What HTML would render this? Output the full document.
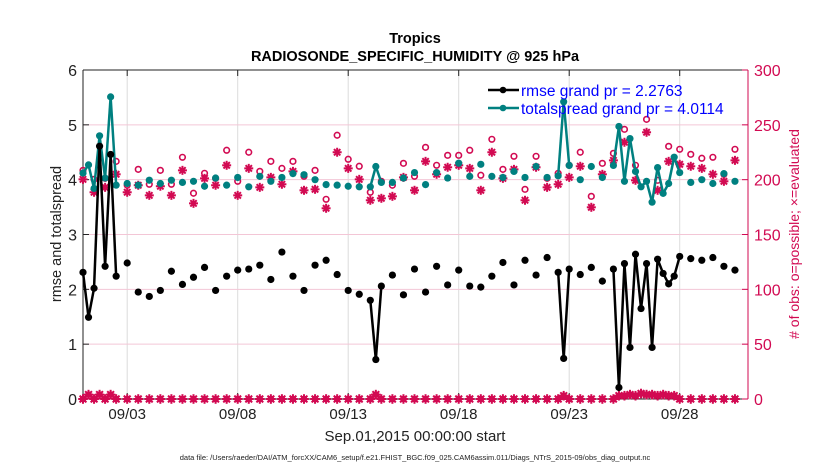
<!DOCTYPE html>
<html><head><meta charset="utf-8">
<style>
html,body{margin:0;padding:0;background:#fff;}
svg{display:block;font-family:"Liberation Sans",Arial,sans-serif;}
</style></head>
<body>
<svg id="chart" width="830" height="470" viewBox="0 0 830 470" xmlns="http://www.w3.org/2000/svg">
<g id="grid"></g>
<g id="axes"></g>
<g id="marks"></g>
<text x="415" y="43" text-anchor="middle" font-size="14.5" font-weight="bold">Tropics</text>
<text x="415" y="61" text-anchor="middle" font-size="14.5" font-weight="bold">RADIOSONDE_SPECIFIC_HUMIDITY @ 925 hPa</text>
<text x="415" y="441" text-anchor="middle" font-size="15" fill="#222">Sep.01,2015 00:00:00 start</text>
<text x="415" y="460" text-anchor="middle" font-size="7.5" fill="#222">data file: /Users/raeder/DAI/ATM_forcXX/CAM6_setup/f.e21.FHIST_BGC.f09_025.CAM6assim.011/Diags_NTrS_2015-09/obs_diag_output.nc</text>
<text transform="translate(61,234) rotate(-90)" text-anchor="middle" font-size="14.5" fill="#222">rmse and totalspread</text>
<text transform="translate(799,234) rotate(-90)" text-anchor="middle" font-size="14" fill="#d20a52"># of obs: o=possible; ×=evaluated</text>
<g>
<g>
<line x1="488" y1="90" x2="519" y2="90" stroke="#000" stroke-width="2.5"/>
<circle cx="503" cy="90" r="3.3" fill="#000"/>
<text x="521" y="96" font-size="15.5" fill="#0000ff">rmse grand pr = 2.2763</text>
</g>
<g>
<line x1="488" y1="108" x2="519" y2="108" stroke="#008080" stroke-width="2.5"/>
<circle cx="503" cy="108" r="3.3" fill="#008080"/>
<text x="521" y="114" font-size="15.5" fill="#0000ff">totalspread grand pr = 4.0114</text>
</g>
</g>
</svg>
<script>
const days = [0,0.25,0.5,0.75,1,1.25,1.5,
 2,2.5,3,3.5,4,4.5,5,5.5,6,6.5,7,7.5,8,8.5,9,9.5,10,10.5,11,11.5,12,12.5,13,
 13.25,
 13.5,14,14.5,15,15.5,16,16.5,17,17.5,18,18.5,19,19.5,20,20.5,21,21.5,
 21.75,
 22,22.5,23,23.5,24,
 24.25,24.5,24.75,25,25.25,25.5,25.75,26,26.25,26.5,26.75,
 27,27.5,28,28.5,29,29.5];
const rmse = [2.31,1.49,2.02,4.61,2.42,4.46,2.24,
 2.48,1.95,1.87,1.98,2.33,2.09,2.22,2.40,1.98,2.24,2.35,2.37,2.44,2.18,2.68,2.24,1.98,2.44,2.53,2.27,1.98,1.91,1.80,
 0.72,
 2.06,2.26,1.90,2.37,1.95,2.42,2.08,2.35,2.06,2.04,2.24,2.49,2.08,2.53,2.26,2.58,2.31,
 0.74,
 2.37,2.27,2.40,2.15,2.37,
 0.21,2.47,0.94,2.64,1.65,2.47,0.94,2.55,2.29,2.10,2.24,
 2.60,2.56,2.53,2.58,2.42,2.35];
const spread = [4.12,4.27,3.84,4.80,4.03,5.51,3.90,
 3.93,3.90,3.99,3.93,3.99,3.95,3.97,3.88,4.03,3.90,4.04,3.87,4.06,3.97,4.04,4.11,4.09,4.00,3.91,3.90,3.88,3.87,3.87,
 4.24,
 3.95,3.95,4.03,4.13,3.91,4.13,4.03,4.30,4.06,4.28,4.06,4.04,4.15,4.04,4.24,4.04,4.07,
 5.42,
 4.26,4.00,4.24,4.04,4.26,
 4.97,3.97,4.75,4.15,3.87,3.97,3.59,4.22,3.75,3.93,4.41,
 4.13,3.95,4.00,3.93,4.11,3.97];
const possible = [208.5,null,200.3,null,201.2,null,216.7,
 194.9,209.4,195.8,208.5,195.8,220.4,187.6,205.8,201.2,226.8,198.5,225,207.6,216.7,210.3,216.7,203.1,208.5,182.1,240.5,218.6,212.2,188.5,
 null,
 198.5,194.9,214.9,203.1,229.5,213.1,222.2,222.2,226.8,204,236.8,209.4,221.3,191.2,221.3,201.2,205.8,
 null,
 213.1,225,184.8,214.9,224,
 null,245.9,null,213.1,null,255,null,199.4,null,230.4,null,
 227.7,223.1,219.5,220.4,204.9,227.7];
const evaluated = [200.3,null,188.5,null,193,null,204.9,
 188.5,194.9,185.7,194,185.7,208.5,178.4,201.2,194.9,213.1,185.7,210.3,193,202.1,195.8,207.6,190.3,191.2,173.9,225,210.3,200.3,181.2,
 null,
 183,184.8,202.1,190.3,216.7,204.9,211.3,213.1,210.3,190.3,225,201.2,209.4,181.2,211.3,193,195.8,
 null,
 202.1,212.2,174.8,204.9,217.6,
 null,234.1,null,199.4,null,243.2,null,190.3,null,216.7,null,
 214,212.2,210.3,204.9,198.5,217.6];
const lowCount = [0,4,0,4,0,4,0,
 0,0,0,0,0,0,0,0,0,0,0,0,0,0,0,0,0,0,0,0,0,0,0,
 4,
 0,0,0,0,0,0,0,0,0,0,0,0,0,0,0,0,0,
 3,
 0,0,0,0,0,
 3,3,4,3,5,4,4,3,4,3,3,
 0,0,0,0,0,0];
const xTickDays = [2,7,12,17,22,27];
const xTickLabels = ["09/03","09/08","09/13","09/18","09/23","09/28"];
const yLeftTicks = [0,1,2,3,4,5,6];
const yRightTicks = [0,50,100,150,200,250,300];

const NS="http://www.w3.org/2000/svg";
const X0=83,X1=748,Y0=399,Y1=70, DMAX=30.09;
const PINK="#d20a52", TEAL="#008080";
const xs=d=>X0+(d/DMAX)*(X1-X0);
const yl=v=>Y0-(v/6)*(Y0-Y1);
const yr=v=>Y0-(v/300)*(Y0-Y1);
function mk(tag,attrs,parent){const e=document.createElementNS(NS,tag);for(const k in attrs)e.setAttribute(k,attrs[k]);parent.appendChild(e);return e;}
const grid=document.getElementById('grid'),axes=document.getElementById('axes'),marks=document.getElementById('marks');

// grid
xTickDays.forEach((d,i)=>{
 const l=mk('line',{x1:xs(d),x2:xs(d),y1:Y1,y2:Y0,stroke:'#dcdcdc','stroke-width':1},grid);
 
 
});
yRightTicks.forEach(v=>{
 if(v===0||v===300)return;
 const l=mk('line',{x1:X0,x2:X1,y1:yr(v),y2:yr(v),stroke:'#f3c6d6','stroke-width':1},grid);
 
 
});
// axes
mk('line',{x1:X0,x2:X1,y1:Y1,y2:Y1,stroke:'#222','stroke-width':1},axes);
mk('line',{x1:X0,x2:X1,y1:Y0,y2:Y0,stroke:'#222','stroke-width':1},axes);
mk('line',{x1:X0,x2:X0,y1:Y1,y2:Y0,stroke:'#222','stroke-width':1},axes);
mk('line',{x1:X1,x2:X1,y1:Y1,y2:Y0,stroke:PINK,'stroke-width':1},axes);
xTickDays.forEach((d,i)=>{
 mk('line',{x1:xs(d),x2:xs(d),y1:Y0,y2:Y0-6,stroke:'#222'},axes);
 mk('line',{x1:xs(d),x2:xs(d),y1:Y1,y2:Y1+6,stroke:'#222'},axes);
 const t=mk('text',{x:xs(d),y:Y0+20,'text-anchor':'middle','font-size':15,fill:'#222'},axes);
 t.textContent=xTickLabels[i];
 
 
});
yLeftTicks.forEach(v=>{
 mk('line',{x1:X0,x2:X0+6,y1:yl(v),y2:yl(v),stroke:'#222'},axes);
 const t=mk('text',{x:X0-6,y:yl(v)+6,'text-anchor':'end','font-size':16,fill:'#222'},axes);
 t.textContent=v;
 
 
});
yRightTicks.forEach(v=>{
 mk('line',{x1:X1,x2:X1-6,y1:yr(v),y2:yr(v),stroke:PINK},axes);
 const t=mk('text',{x:X1+6,y:yr(v)+6,'text-anchor':'start','font-size':16,fill:PINK},axes);
 t.textContent=v;
 
 
});

function star(g,cx,cy,r,color){
 for(let k=0;k<4;k++){const a=k*Math.PI/4;
  mk('line',{x1:cx-r*Math.cos(a),y1:cy-r*Math.sin(a),x2:cx+r*Math.cos(a),y2:cy+r*Math.sin(a),stroke:color,'stroke-width':2},g);}
}
function lineSeries(vals,yf,color,name){
 const g=mk('g',{},marks);
 
 
 for(let i=1;i<days.length;i++){
  if(vals[i]==null||vals[i-1]==null)continue;
  if(days[i]-days[i-1]>0.3)continue;
  mk('line',{x1:xs(days[i-1]),y1:yf(vals[i-1]),x2:xs(days[i]),y2:yf(vals[i]),stroke:color,'stroke-width':2.5,'stroke-linejoin':'round'},g);
 }
 days.forEach((d,i)=>{
  if(vals[i]==null)return;
  const c=mk('circle',{cx:xs(d),cy:yf(vals[i]),r:3.6,fill:color},g);
  
  
 });
}
// pink obs counts
const gp=mk('g',{},marks);


days.forEach((d,i)=>{
 if(possible[i]==null)return;
 const c=mk('circle',{cx:xs(d),cy:yr(possible[i]),r:2.8,fill:'none',stroke:PINK,'stroke-width':1.6},gp);
 
 
});
const ge=mk('g',{},marks);


days.forEach((d,i)=>{
 if(evaluated[i]==null)return;
 star(ge,xs(d),yr(evaluated[i]),4.5,PINK);
});
const gl=mk('g',{},marks);


days.forEach((d,i)=>{
 const c=mk('circle',{cx:xs(d),cy:yr(lowCount[i]),r:3.3,fill:PINK},gl);
 
 
 star(gl,xs(d),yr(lowCount[i]),4.8,PINK);
});
lineSeries(spread,yl,TEAL,'totalspread-series');
lineSeries(rmse,yl,'#000','rmse-series');
</script>
</body></html>
